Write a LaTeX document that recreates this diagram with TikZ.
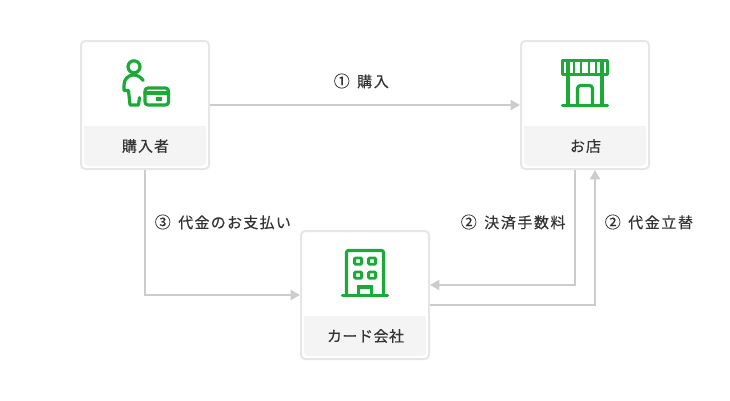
\documentclass[tikz,border=0pt]{standalone}
\usepackage{fontspec}
\setmainfont{Noto Sans CJK JP}[LetterSpace=7,FakeBold=0.3]
\usetikzlibrary{arrows.meta}
\definecolor{boxline}{HTML}{E6E6E6}
\definecolor{conline}{HTML}{CCCCCC}
\definecolor{labelbg}{HTML}{F4F4F4}
\definecolor{txt}{HTML}{333333}
\definecolor{icon}{HTML}{1AAA35}
\newcommand{\circnum}[1]{{\fontsize{12pt}{13pt}\selectfont\addfontfeature{LetterSpace=0}#1}\hspace{5.6pt}}
\tikzset{
  x=0.75pt,y=-0.75pt,
  cardbox/.style={draw=boxline,fill=white,line width=1.5pt,rounded corners=3pt,minimum width=96pt,minimum height=96pt,inner sep=0pt},
  captext/.style={text=txt,font=\fontsize{11.25pt}{13pt}\selectfont,inner sep=0pt},
  lab/.style={text=txt,anchor=west,font=\fontsize{11.25pt}{13pt}\selectfont\addfontfeature{LetterSpace=10.5},inner sep=0pt},
  con/.style={draw=conline,line width=1.5pt,-{Triangle[length=7pt,width=7.5pt]}},
  ico/.style={draw=icon,line width=2.4pt,line cap=round,line join=round},
  band/.style={fill=labelbg},
}
\begin{document}
\begin{tikzpicture}
\useasboundingbox (0,0) rectangle (730,400);
\node[cardbox] (buyer) at (145,105) {};
\node[cardbox] (shop) at (585,105) {};
\node[cardbox] (company) at (365,295) {};
% connectors
\draw[con] (buyer.east) -- (shop.west);
\draw[con] (buyer.south) |- (company.west);
\draw[con] ([xshift=-7.5pt]shop.south) |- ([yshift=7.5pt]company.east);
\draw[con] ([yshift=-7.5pt]company.east) -| ([xshift=7.5pt]shop.south);
% label bands
\fill[band,rounded corners=3pt] (84,126) -- (206,126) -- (206,166) -- (84,166) -- cycle;
\fill[band] (84,126) rectangle (206,136);
\fill[band,rounded corners=3pt] (524,126) -- (646,126) -- (646,166) -- (524,166) -- cycle;
\fill[band] (524,126) rectangle (646,136);
\fill[band,rounded corners=3pt] (304,316) -- (426,316) -- (426,356) -- (304,356) -- cycle;
\fill[band] (304,316) rectangle (426,326);
\node[captext] (buyercap) at (145.5,146) {購入者};
\node[captext] (shopcap) at (585.5,146) {お店};
\node[captext] (companycap) at (365.5,336) {\addfontfeature{LetterSpace=3.5}カード会社};
% edge labels
\node[lab] (l1) at (333.5,81) {\circnum{①}購入};
\node[lab] (l2) at (460.5,222) {\circnum{②}決済手数料};
\node[lab] (l3) at (604.5,222) {\circnum{②}代金立替};
\node[lab] (l4) at (154.5,222) {\circnum{③}\addfontfeature{LetterSpace=8.5}代金のお支払い};
% person icon
\draw[ico] (134,66.8) circle (6);
\draw[ico] (143.3,80.5) .. controls (140.5,77) and (137.5,75) .. (133.5,75)
  .. controls (128,75) and (124,79.5) .. (124,85) -- (124,90.5) -- (128.5,90.5) -- (130,105) -- (138.5,105) -- (139.5,97.5);
\draw[ico,rounded corners=2.25pt] (145,88) rectangle (168.5,105);
\draw[ico] (145,93) -- (168.5,93);
\draw[ico,line cap=butt] (155.5,99) -- (162,99);
% shop icon
\draw[ico,line join=round] (562.5,60.5) rectangle (607.5,74.5);
\foreach \xx in {574.3,581.3,588.7,595.7}
  \draw[ico,line width=1.6pt,line cap=butt] (\xx,60.5) -- (\xx,74.5);
\draw[ico,line cap=butt] (568,60.5) -- (568,105);
\draw[ico,line cap=butt] (602,60.5) -- (602,105);
\draw[ico] (562.5,105.5) -- (607.5,105.5);
\draw[ico,rounded corners=2.25pt,line cap=butt] (577.5,105) -- (577.5,85.5) -- (592.5,85.5) -- (592.5,105);
% building icon
\draw[ico,rounded corners=1.5pt,line cap=butt] (346.5,295) -- (346.5,250.5) -- (383.5,250.5) -- (383.5,295);
\draw[ico] (342.5,295.5) -- (387.5,295.5);
\foreach \xa/\ya in {354.6/258,368.6/258,354.6/272,368.6/272}
  \draw[ico,line width=2.1pt,line join=miter,rounded corners=0.7pt] (\xa,\ya) rectangle ++(7,6.3);
\draw[ico,line cap=butt,line join=miter] (358.5,295) -- (358.5,287) -- (371.5,287) -- (371.5,295);
\end{tikzpicture}
\end{document}
